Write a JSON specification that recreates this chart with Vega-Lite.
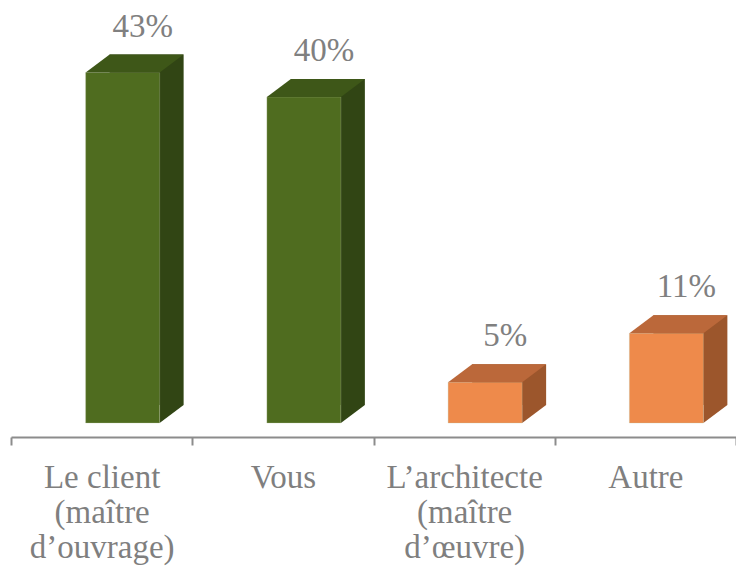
{
  "$schema": "https://vega.github.io/schema/vega-lite/v6.json",
  "width": 725,
  "height": 437,
  "autosize": "none",
  "padding": {"left": 11, "top": 0, "right": 0, "bottom": 129},
  "background": "white",
  "config": {"view": {"stroke": null}, "font": "Liberation Serif"},
  "data": {
    "values": [
      {"cat": "Le client|(maître|d’ouvrage)", "value": 0.43, "group": "a"},
      {"cat": "Vous", "value": 0.40, "group": "a"},
      {"cat": "L’architecte|(maître|d’œuvre)", "value": 0.05, "group": "b"},
      {"cat": "Autre", "value": 0.11, "group": "b"}
    ]
  },
  "encoding": {
    "x": {
      "field": "cat",
      "type": "nominal",
      "sort": null,
      "scale": {"paddingInner": 0, "paddingOuter": 0},
      "axis": {
        "title": null,
        "labelAngle": 0,
        "labelExpr": "split(datum.label, '|')",
        "labelFont": "Liberation Serif",
        "labelFontSize": 33,
        "labelColor": "#7f7f7f",
        "labelLineHeight": 35,
        "labelPadding": 16,
        "labelLimit": 0,
        "labelOverlap": false,
        "tickBand": "extent",
        "tickSize": 8,
        "tickWidth": 2,
        "tickColor": "#8c8c8c",
        "domainColor": "#8c8c8c",
        "domainWidth": 2
      }
    },
    "y": {
      "field": "value",
      "type": "quantitative",
      "scale": {"domain": [-0.0172, 0.519], "nice": false, "zero": false},
      "axis": null
    }
  },
  "layer": [
    {
      "mark": {"type": "bar", "width": 74, "xOffset": 45, "yOffset": -18, "y2Offset": -18},
      "encoding": {
        "y2": {"datum": 0},
        "fill": {"condition": {"test": "datum.group == 'a'", "value": "#314514"}, "value": "#9c562c"}
      }
    },
    {
      "mark": {"type": "point", "filled": true, "opacity": 1, "strokeWidth": 0, "size": 9604, "xOffset": 70, "yOffset": -9,
        "shape": "M-0.245,-0.184L0.245,-0.184L-0.245,0.184Z"},
      "encoding": {
        "y": {"datum": 0},
        "fill": {"condition": {"test": "datum.group == 'a'", "value": "#314514"}, "value": "#9c562c"}
      }
    },
    {
      "mark": {"type": "bar", "width": 74, "xOffset": 21, "stroke": "#b8c4a0", "strokeWidth": 0.6, "strokeOpacity": 0.5},
      "encoding": {
        "y2": {"datum": 0},
        "fill": {"condition": {"test": "datum.group == 'a'", "value": "#4f6c1f"}, "value": "#ee8a4b"}
      }
    },
    {
      "mark": {"type": "point", "filled": true, "opacity": 1, "strokeWidth": 0, "size": 9604, "xOffset": 33, "yOffset": -9,
        "shape": "M-1,0.1837L0.5102,0.1837L1,-0.1837L-0.5102,-0.1837Z"},
      "encoding": {
        "fill": {"condition": {"test": "datum.group == 'a'", "value": "#3e5718"}, "value": "#bb683a"}
      }
    },
    {
      "mark": {"type": "text", "dx": 41, "dy": -36, "baseline": "alphabetic", "align": "center", "fontSize": 33, "font": "Liberation Serif", "color": "#808080"},
      "encoding": {
        "text": {"field": "value", "type": "quantitative", "format": ".0%"}
      }
    }
  ]
}
